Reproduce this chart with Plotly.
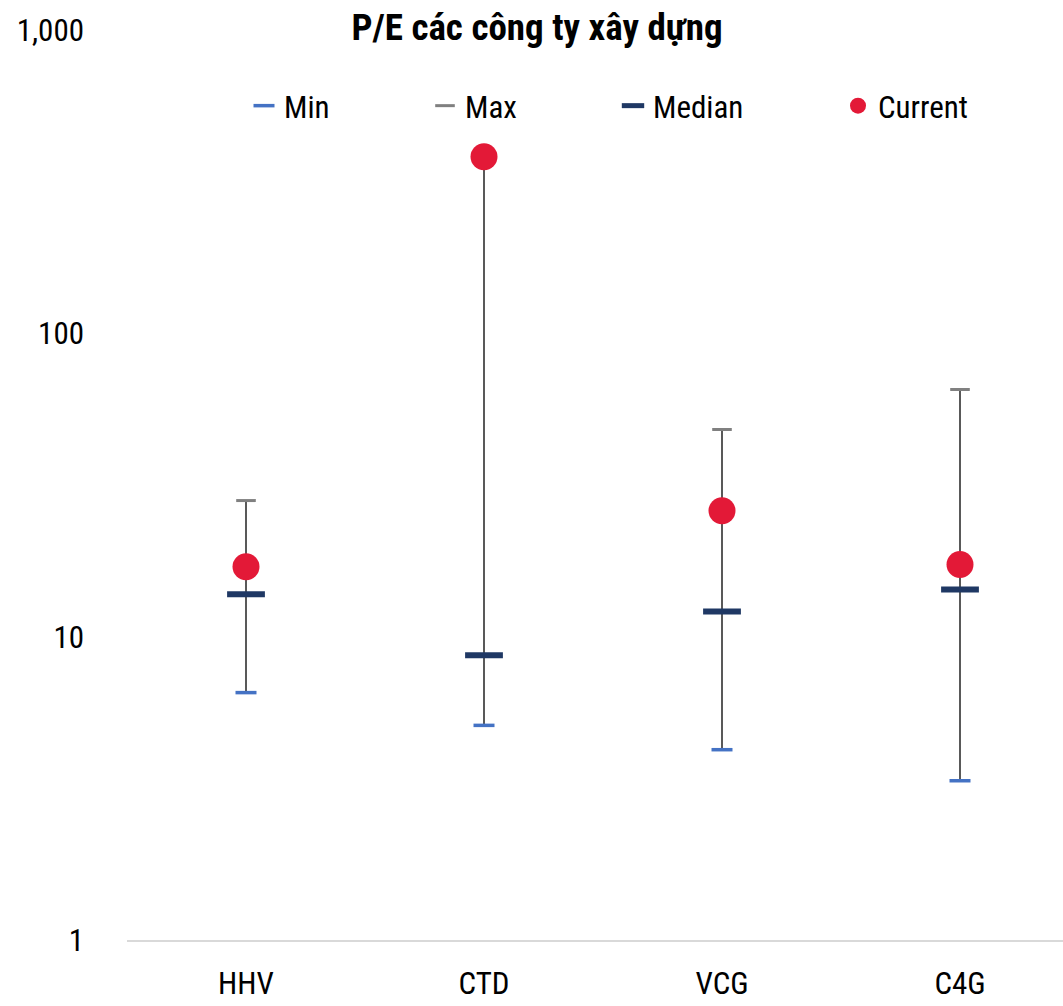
import plotly.graph_objects as go

categories = ["HHV", "CTD", "VCG", "C4G"]
pe_min = [6.54, 5.10, 4.24, 3.35]
pe_max = [28.1, 382, 48.2, 65.3]
pe_median = [13.8, 8.68, 12.1, 14.3]
pe_current = [17.0, 382, 26.0, 17.3]
y_tickvals = [1, 10, 100, 1000]
y_ticktext = ["1", "10", "100", "1,000"]
title_text = "P/E các công ty xây dựng"

FONT = "Liberation Sans Narrow, Arial Narrow, Roboto Condensed, DejaVu Sans Condensed, sans-serif"

W, H = 1063, 1006
L, R, T, B = 127, 0, 30, 66
plot_w = W - L - R
plot_h = H - T - B

# vertical range lines
lx, ly = [], []
for c, lo, hi in zip(categories, pe_min, pe_max):
    lx += [c, c, None]
    ly += [lo, hi, None]

fig = go.Figure()
fig.add_trace(go.Scatter(x=lx, y=ly, mode="lines", line=dict(color="#595959", width=2),
                         showlegend=False, hoverinfo="skip"))
fig.add_trace(go.Scatter(x=categories, y=pe_min, mode="markers", name="Min", legend="legend",
                         marker=dict(symbol="line-ew", size=15, line=dict(color="#4472c4", width=3.5))))
fig.add_trace(go.Scatter(x=categories, y=pe_max, mode="markers", name="Max", legend="legend2",
                         marker=dict(symbol="line-ew", size=14, line=dict(color="#808080", width=3))))
fig.add_trace(go.Scatter(x=categories, y=pe_median, mode="markers", name="Median", legend="legend3",
                         marker=dict(symbol="line-ew", size=27, line=dict(color="#1f3864", width=6))))
fig.add_trace(go.Scatter(x=categories, y=pe_current, mode="markers", name="Current", legend="legend4",
                         marker=dict(symbol="circle", size=27, color="#e31937")))

def px2paper_x(px):
    return (px - L) / plot_w

def px2paper_y(py):
    return (H - B - py) / plot_h

leg_common = dict(orientation="h", yanchor="middle", xanchor="left",
                  font=dict(family=FONT, size=31, color="#000000"),
                  bgcolor="rgba(0,0,0,0)", tracegroupgap=0)
leg_y = px2paper_y(106)
marker_px = [264, 445, 633, 858]
legends = {}
for i, key in enumerate(["legend", "legend2", "legend3", "legend4"]):
    legends[key] = dict(leg_common, x=px2paper_x(marker_px[i] - 20), y=leg_y)

fig.update_layout(
    width=W, height=H,
    margin=dict(l=L, r=R, t=T, b=B, autoexpand=False),
    paper_bgcolor="white", plot_bgcolor="white",
    font=dict(family=FONT, size=31, color="#000000"),
    title=dict(text="<b>" + title_text + "</b>", x=537 / W, xref="container", xanchor="center",
               y=1 - 27 / H, yref="container", yanchor="middle",
               font=dict(family=FONT, size=37, color="#000000")),
    xaxis=dict(type="category", categoryorder="array", categoryarray=categories,
               range=[-0.5, -0.5 + plot_w / 238.0],
               showgrid=False, zeroline=False, showline=True, linecolor="#d9d9d9", linewidth=2,
               ticks="", ticklabelstandoff=15, automargin=False,
               tickfont=dict(family=FONT, size=31, color="#000000")),
    yaxis=dict(type="log", range=[0, 3], tickvals=y_tickvals, ticktext=y_ticktext,
               showgrid=False, zeroline=False, showline=False, ticks="",
               ticklabelstandoff=42, automargin=False,
               tickfont=dict(family=FONT, size=31, color="#000000")),
    showlegend=True,
    **legends,
)

fig.write_html("out.html")
